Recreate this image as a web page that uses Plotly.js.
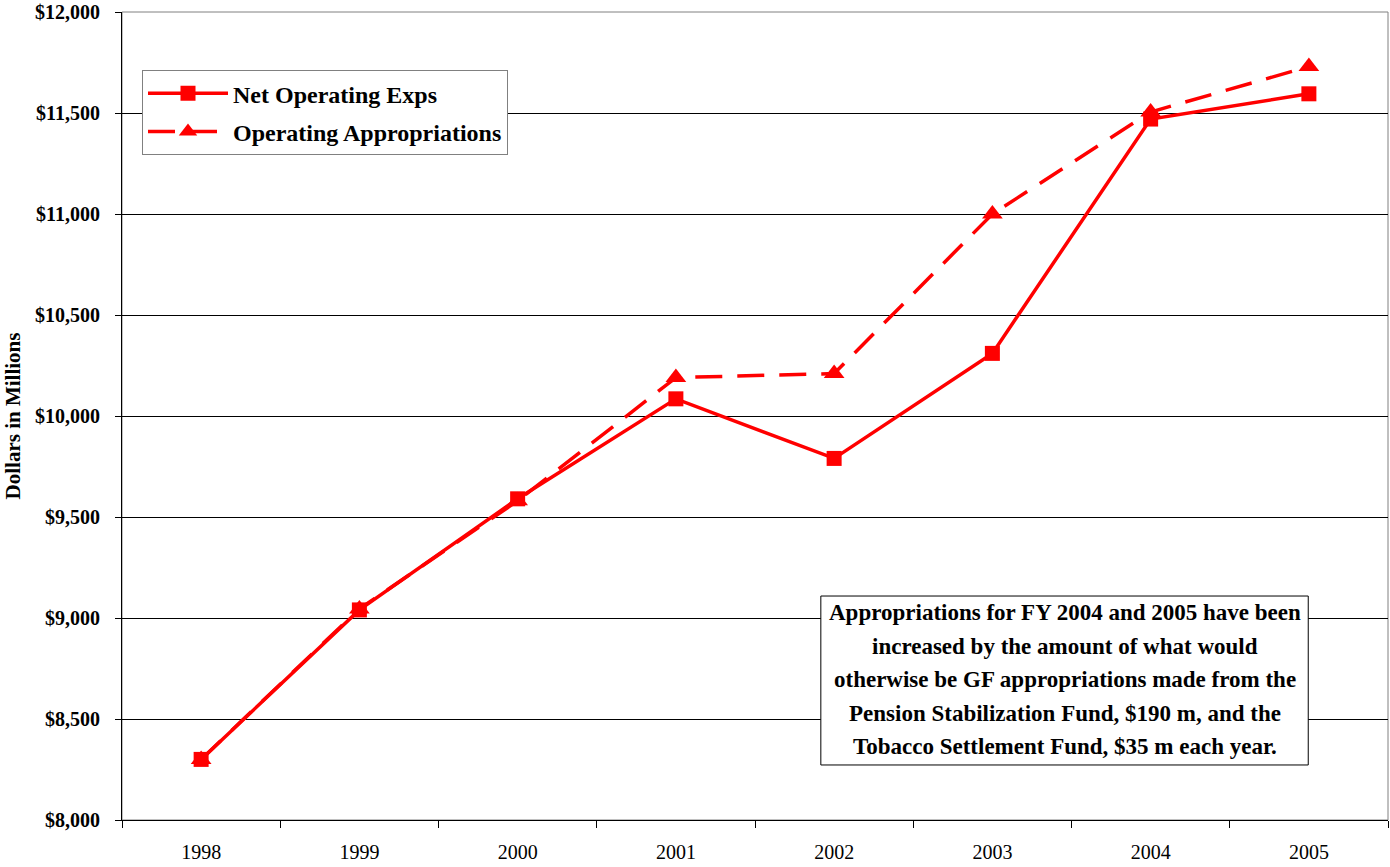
<!DOCTYPE html>
<html>
<head>
<meta charset="utf-8">
<script src="https://cdn.plot.ly/plotly-3.0.1.min.js"></script>
<style>html,body{margin:0;padding:0;background:#fff;}#chart{width:1390px;height:867px;}</style>
</head>
<body>
<div id="chart"></div>
<script>
var years = ["1998","1999","2000","2001","2002","2003","2004","2005"];
var netOperatingExps = [8300, 9040, 9590, 10085, 9790, 10310, 11470, 11595];
var operatingAppropriations = [8300, 9045, 9580, 10190, 10210, 11000, 11505, 11730];
var yTicks = [8000, 8500, 9000, 9500, 10000, 10500, 11000, 11500, 12000];
var yTickLabels = ["$8,000","$8,500","$9,000","$9,500","$10,000","$10,500","$11,000","$11,500","$12,000"];
var noteLines = [
  "Appropriations for FY 2004 and 2005 have been",
  "increased by the amount of what would",
  "otherwise be GF appropriations made from the",
  "Pension Stabilization Fund, $190 m, and the",
  "Tobacco Settlement Fund, $35 m each year."
];

var serif = "Liberation Serif, Times New Roman, serif";

var traces = [
  {
    x: years, y: operatingAppropriations, name: "Operating Appropriations",
    type: "scatter", mode: "lines+markers", legendrank: 2, legendgroup: "b",
    line: {color: "#ff0000", width: 3.5, dash: "27px,15px"},
    marker: {symbol: "triangle-up", size: 18, color: "#ff0000"}
  },
  {
    x: years, y: netOperatingExps, name: "Net Operating Exps",
    type: "scatter", mode: "lines+markers", legendrank: 1, legendgroup: "a",
    line: {color: "#ff0000", width: 3.5},
    marker: {symbol: "square", size: 15, color: "#ff0000"}
  }
];

var annotations = noteLines.map(function(t, i){
  return {
    xref: "paper", yref: "paper", x: 0.7445, y: 0.2562 - i*0.04146,
    xanchor: "center", yanchor: "middle", showarrow: false,
    text: "<b>" + t + "</b>",
    font: {family: serif, size: 23, color: "#000"}
  };
});

var layout = {
  width: 1390, height: 867,
  margin: {l: 122, r: 2, t: 12, b: 47},
  paper_bgcolor: "#fff", plot_bgcolor: "#fff",
  showlegend: true,
  legend: {
    x: 0.0158, y: 0.928, xanchor: "left", yanchor: "top",
    bgcolor: "#fff", bordercolor: "#808080", borderwidth: 1,
    font: {family: serif, size: 24, color: "#000", weight: "bold"},
    traceorder: "grouped", tracegroupgap: 4, itemwidth: 80
  },
  xaxis: {
    type: "category", range: [-0.5, 7.5],
    tickson: "boundaries", ticks: "outside", ticklen: 7, tickcolor: "#000",
    showgrid: false, showline: true, linecolor: "#000", linewidth: 1,
    tickfont: {family: serif, size: 20, color: "#000"},
    ticklabelstandoff: 14,
    zeroline: false, fixedrange: true
  },
  yaxis: {
    range: [8000, 12000], tickmode: "array", tickvals: yTicks, ticktext: yTickLabels,
    ticks: "outside", ticklen: 6, tickcolor: "#000",
    ticklabelstandoff: 11,
    showgrid: true, gridcolor: "#000", gridwidth: 1,
    showline: true, linecolor: "#000", linewidth: 1,
    zeroline: false,
    tickfont: {family: serif, size: 20, color: "#000", weight: "bold"},
    title: {text: "Dollars in Millions", standoff: 8,
      font: {family: serif, size: 21, color: "#000", weight: "bold"}},
    automargin: false
  },
  shapes: [
    {type: "rect", xref: "paper", yref: "paper", x0: 0, x1: 1, y0: 0, y1: 1,
     line: {color: "#808080", width: 1}, layer: "below"},
    {type: "rect", xref: "paper", yref: "paper", x0: 0.552, x1: 0.937, y0: 0.0681, y1: 0.2772,
     line: {color: "#000", width: 1}, fillcolor: "#fff", layer: "above"}
  ],
  annotations: annotations
};

Plotly.newPlot("chart", traces, layout, {displayModeBar: false, staticPlot: true});
</script>
</body>
</html>
